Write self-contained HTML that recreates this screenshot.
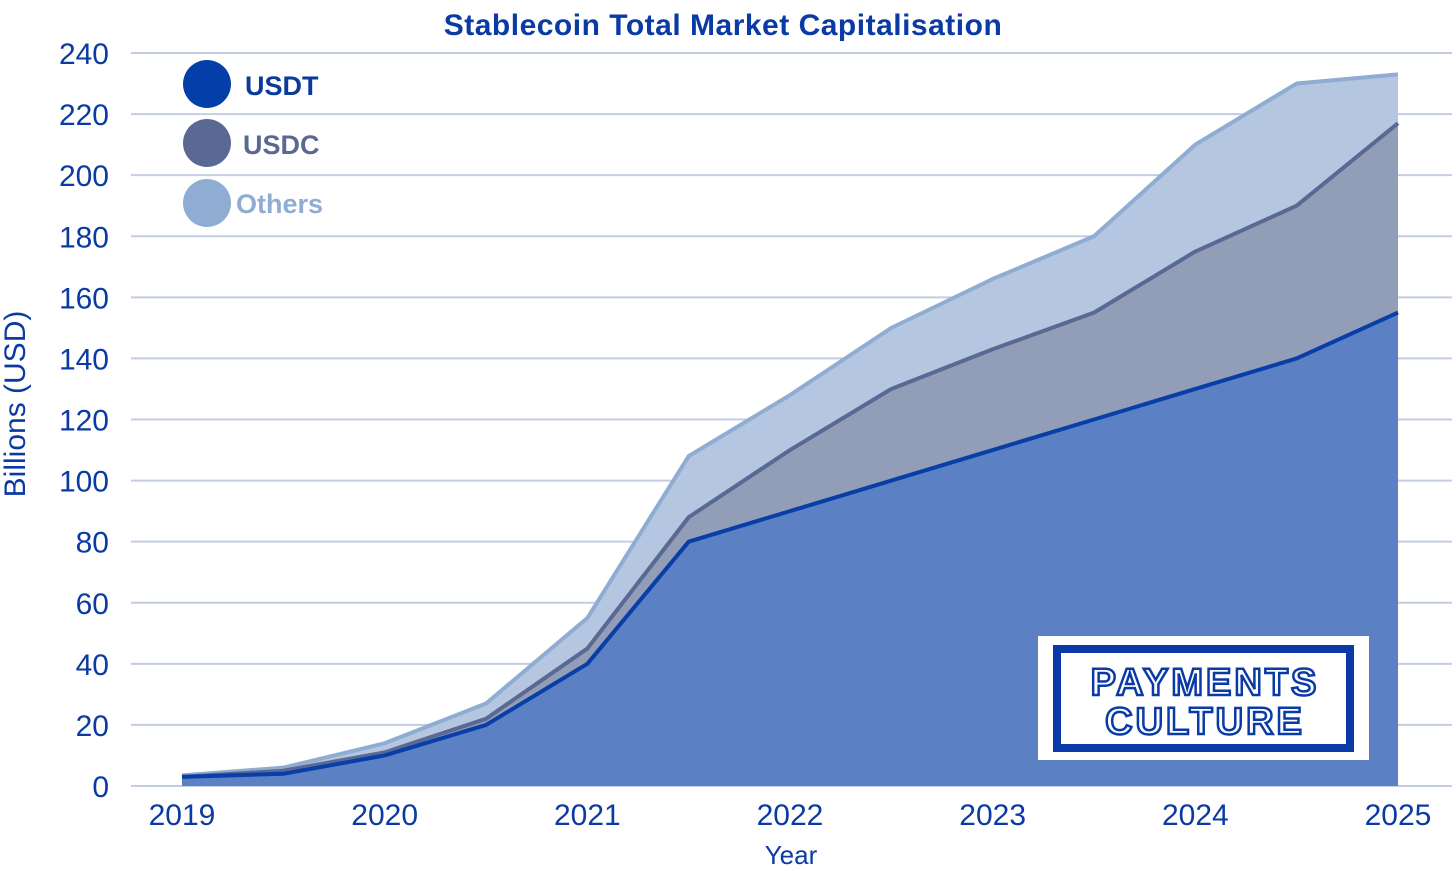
<!DOCTYPE html>
<html><head><meta charset="utf-8"><style>
body{margin:0;background:#fff;}
svg text{font-family:"Liberation Sans",sans-serif;}
</style></head><body>
<svg id="chart" width="1456" height="866">
<text x="723" y="35" text-anchor="middle" font-size="30" font-weight="bold" letter-spacing="0.5" fill="#0a3aa3">Stablecoin Total Market Capitalisation</text>
<g id="grid"></g>
<g id="areas"></g>
<g id="xaxis"></g>
<text transform="translate(25,404) rotate(-90)" text-anchor="middle" font-size="30" fill="#0a3aa3">Billions (USD)</text>
<text x="791" y="864" text-anchor="middle" font-size="26" fill="#0a3aa3">Year</text>
<g>
<g><circle cx="207" cy="84" r="24" fill="#043ea8"/><text x="245" y="95" font-size="27" font-weight="bold" fill="#0a3a9a">USDT</text></g>
<g><circle cx="207" cy="143" r="24" fill="#5a6894"/><text x="243" y="154" font-size="27" font-weight="bold" fill="#5a6894">USDC</text></g>
<g><circle cx="207" cy="203" r="24" fill="#8fadd3"/><text x="236" y="213" font-size="27" font-weight="bold" fill="#8fadd3">Others</text></g>
</g>
<g>
<rect x="1038" y="636" width="331" height="124" fill="#fff"/>
<rect x="1057" y="649" width="293" height="99" fill="none" stroke="#0a3aa8" stroke-width="8"/>
<text x="1205" y="695" text-anchor="middle" font-size="38" font-weight="bold" letter-spacing="3" fill="#fff" stroke="#0a3aa8" stroke-width="2.5">PAYMENTS</text>
<text x="1205" y="734" text-anchor="middle" font-size="38" font-weight="bold" letter-spacing="3" fill="#fff" stroke="#0a3aa8" stroke-width="2.5">CULTURE</text>
</g>
</svg>
<script>
const years=[2019,2019.5,2020,2020.5,2021,2021.5,2022,2022.5,2023,2023.5,2024,2024.5,2025];
const usdt=[3,4,10,20,40,80,90,100,110,120,130,140,155];
const usdc=[0,1,1,2,5,8,20,30,33,35,45,50,62];
const others=[0.5,1,3,5,10,20,18,20,23,25,35,40,16];
const yTicks=[0,20,40,60,80,100,120,140,160,180,200,220,240];
const xTicks=[2019,2020,2021,2022,2023,2024,2025];
const NS="http://www.w3.org/2000/svg";
const X=v=>182+(v-2019)*(1398-182)/6;
const Y=v=>786-v*(786-53)/240;
function mk(tag,attrs,parent){const e=document.createElementNS(NS,tag);for(const k in attrs)e.setAttribute(k,attrs[k]);parent.appendChild(e);return e;}
const grid=document.getElementById('grid');
yTicks.forEach(t=>{
 const l=mk('line',{x1:131,x2:1452,y1:Y(t),y2:Y(t),stroke:'#c3cde4','stroke-width':2},grid);
 
 
 const tx=mk('text',{x:109,y:Y(t)+11,'text-anchor':'end','font-size':30,fill:'#0a3aa3'},grid);
 tx.textContent=t;
 
 
});
const xa=document.getElementById('xaxis');
xTicks.forEach(t=>{
 const tx=mk('text',{x:X(t),y:825,'text-anchor':'middle','font-size':30,fill:'#0a3aa3'},xa);
 tx.textContent=t;
 
 
});
const c1=usdt, c2=usdt.map((v,i)=>v+usdc[i]), c3=c2.map((v,i)=>v+others[i]);
const areas=document.getElementById('areas');
function pts(arr){return arr.map((v,i)=>X(years[i])+','+Y(v));}
function band(top,bot,fill,name){
 const p=pts(top).concat(pts(bot).reverse());
 const e=mk('polygon',{points:p.join(' '),fill:fill},areas);
 
 
}
const zero=years.map(()=>0);
band(c3,c2,'#b5c6e0','area-others');
band(c2,c1,'#929db8','area-usdc');
band(c1,zero,'#5b80c4','area-usdt');
function line(arr,col,name){
 const e=mk('polyline',{points:pts(arr).join(' '),fill:'none',stroke:col,'stroke-width':4,'stroke-linejoin':'round'},areas);
 
 
}
line(c3,'#8fadd3','line-others');
line(c2,'#5a6894','line-usdc');
line(c1,'#073ea8','line-usdt');
</script>
</body></html>
